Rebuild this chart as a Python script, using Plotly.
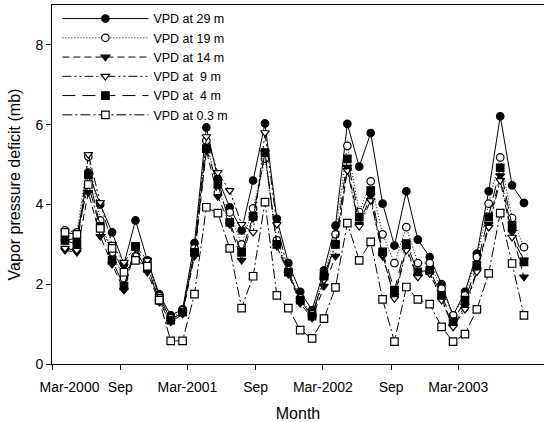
import plotly.graph_objects as go

dates = [
    "2000-04-05", "2000-05-07", "2000-06-07", "2000-07-09", "2000-08-10", "2000-09-11",
    "2000-10-12", "2000-11-13", "2000-12-15", "2001-01-15", "2001-02-16", "2001-03-20",
    "2001-04-21", "2001-05-22", "2001-06-23", "2001-07-25", "2001-08-25", "2001-09-26",
    "2001-10-28", "2001-11-28", "2001-12-30", "2002-01-31", "2002-03-04", "2002-04-04",
    "2002-05-06", "2002-06-07", "2002-07-08", "2002-08-09", "2002-09-10", "2002-10-12",
    "2002-11-12", "2002-12-14", "2003-01-15", "2003-02-15", "2003-03-19", "2003-04-20",
    "2003-05-22", "2003-06-22", "2003-07-24", "2003-08-25",
]

vpd_29m = [3.1, 3.15, 4.8, 4.0, 3.3, 2.5, 3.6, 2.6, 1.75, 1.22, 1.37, 3.03,
           5.93, 4.64, 3.93, 3.35, 4.6, 6.03, 3.64, 2.53, 1.81, 1.35, 2.35, 3.47,
           6.02, 4.95, 5.79, 4.02, 2.97, 4.33, 3.12, 2.68, 2.0, 1.22, 1.81, 2.77,
           4.33, 6.21, 4.48, 4.04]
vpd_19m = [3.35, 3.3, 5.2, 3.6, 2.8, 2.15, 2.7, 2.55, 1.7, 1.15, 1.35, 2.9,
           5.6, 4.3, 3.8, 3.0, 3.9, 5.15, 3.1, 2.35, 1.65, 1.25, 2.2, 3.25,
           5.47, 3.81, 4.58, 3.25, 2.53, 3.43, 2.53, 2.53, 1.89, 1.22, 1.72, 2.68,
           4.02, 5.18, 3.66, 2.93]
vpd_14m = [2.85, 2.8, 4.3, 3.2, 2.5, 1.85, 2.9, 2.3, 1.55, 1.05, 1.25, 2.7,
           5.35, 4.2, 3.5, 2.6, 3.65, 5.3, 2.95, 2.25, 1.52, 1.15, 1.95, 2.7,
           4.93, 3.5, 4.22, 2.7, 1.7, 2.9, 2.2, 2.27, 1.65, 0.95, 1.45, 2.35,
           3.5, 4.72, 3.3, 2.18]
vpd_9m = [2.9, 2.85, 5.25, 4.05, 3.0, 2.55, 2.95, 2.6, 1.7, 1.1, 1.3, 2.8,
          5.7, 4.8, 4.35, 3.5, 3.3, 5.8, 3.5, 2.3, 1.6, 1.2, 2.1, 3.0,
          4.85, 3.45, 4.1, 2.75, 1.64, 2.85, 2.18, 2.27, 1.6, 0.93, 1.37, 2.31,
          3.43, 4.6, 3.18, 2.6]
vpd_4m = [3.1, 3.0, 4.75, 3.45, 2.6, 1.95, 2.95, 2.4, 1.6, 1.1, 1.3, 2.8,
          5.4, 4.5, 3.55, 2.8, 3.7, 5.3, 3.0, 2.3, 1.6, 1.2, 2.2, 3.0,
          5.14, 3.68, 4.35, 2.81, 1.85, 3.02, 2.31, 2.35, 1.72, 1.06, 1.6, 2.47,
          3.68, 4.92, 3.47, 2.56]
vpd_03m = [3.3, 3.25, 4.5, 3.4, 2.9, 2.3, 2.6, 2.45, 1.6, 0.58, 0.58, 1.75,
           3.93, 3.78, 2.9, 1.4, 2.2, 4.06, 1.72, 1.4, 0.85, 0.64, 1.14, 1.92,
           3.53, 2.6, 3.06, 1.62, 0.56, 1.93, 1.62, 1.5, 0.93, 0.56, 0.75, 1.37,
           2.27, 3.78, 2.52, 1.22]

series_names = ["VPD at 29 m", "VPD at 19 m", "VPD at 14 m", "VPD at \u00a09 m",
                "VPD at \u00a04 m", "VPD at 0.3 m"]

tick_vals = ["2000-03-01", "2000-09-01", "2001-03-01", "2001-09-01",
             "2002-03-01", "2002-09-01", "2003-03-01"]
tick_text = ["\u00a0" * 9 + "Mar-2000", "Sep", "Mar-2001", "Sep", "Mar-2002", "Sep", "Mar-2003"]
y_ticks = [0, 2, 4, 6, 8]

styles = [
    dict(dash="solid", symbol="circle", fill="black"),
    dict(dash="1px,2px", symbol="circle", fill="white"),
    dict(dash="7px,4px", symbol="triangle-down", fill="black"),
    dict(dash="9px,3px,2px,3px,2px,3px", symbol="triangle-down", fill="white"),
    dict(dash="13px,7px", symbol="square", fill="black"),
    dict(dash="10px,3px,2px,3px", symbol="square", fill="white"),
]

fig = go.Figure()
for name, vals, st in zip(series_names,
                          [vpd_29m, vpd_19m, vpd_14m, vpd_9m, vpd_4m, vpd_03m],
                          styles):
    fig.add_trace(go.Scatter(
        x=dates, y=vals, name=name, mode="lines+markers",
        line=dict(color="black", width=1, dash=st["dash"]),
        marker=dict(symbol=st["symbol"], size=7.5, color=st["fill"],
                    line=dict(color="black", width=1.2)),
    ))

font_family = "Liberation Sans, Arial, Helvetica, sans-serif"
fig.update_layout(
    width=544, height=422,
    margin=dict(l=52, r=0, t=5, b=58),
    paper_bgcolor="white", plot_bgcolor="white",
    font=dict(family=font_family, size=14, color="black"),
    showlegend=True,
    legend=dict(x=0.011, y=1.003, xanchor="left", yanchor="top",
                bgcolor="rgba(0,0,0,0)", itemwidth=86,
                font=dict(size=12.5, family=font_family),
                tracegroupgap=0),
    xaxis=dict(
        type="date", range=["2000-03-01", "2003-10-18"],
        tickvals=tick_vals, ticktext=tick_text,
        ticks="outside", ticklen=5, tickcolor="black",
        showline=True, linecolor="black", linewidth=1, mirror=True,
        showgrid=False, zeroline=False,
        tickfont=dict(size=14), ticklabelstandoff=5,
        title=dict(text="Month", font=dict(size=16), standoff=14),
    ),
    yaxis=dict(
        range=[0, 9], tickvals=y_ticks,
        ticks="outside", ticklen=5, tickcolor="black",
        showline=True, linecolor="black", linewidth=1,
        showgrid=False, zeroline=False,
        tickfont=dict(size=14),
        title=dict(text="Vapor pressure deficit (mb)", font=dict(size=16), standoff=10),
    ),
)

fig.write_html("out.html")
